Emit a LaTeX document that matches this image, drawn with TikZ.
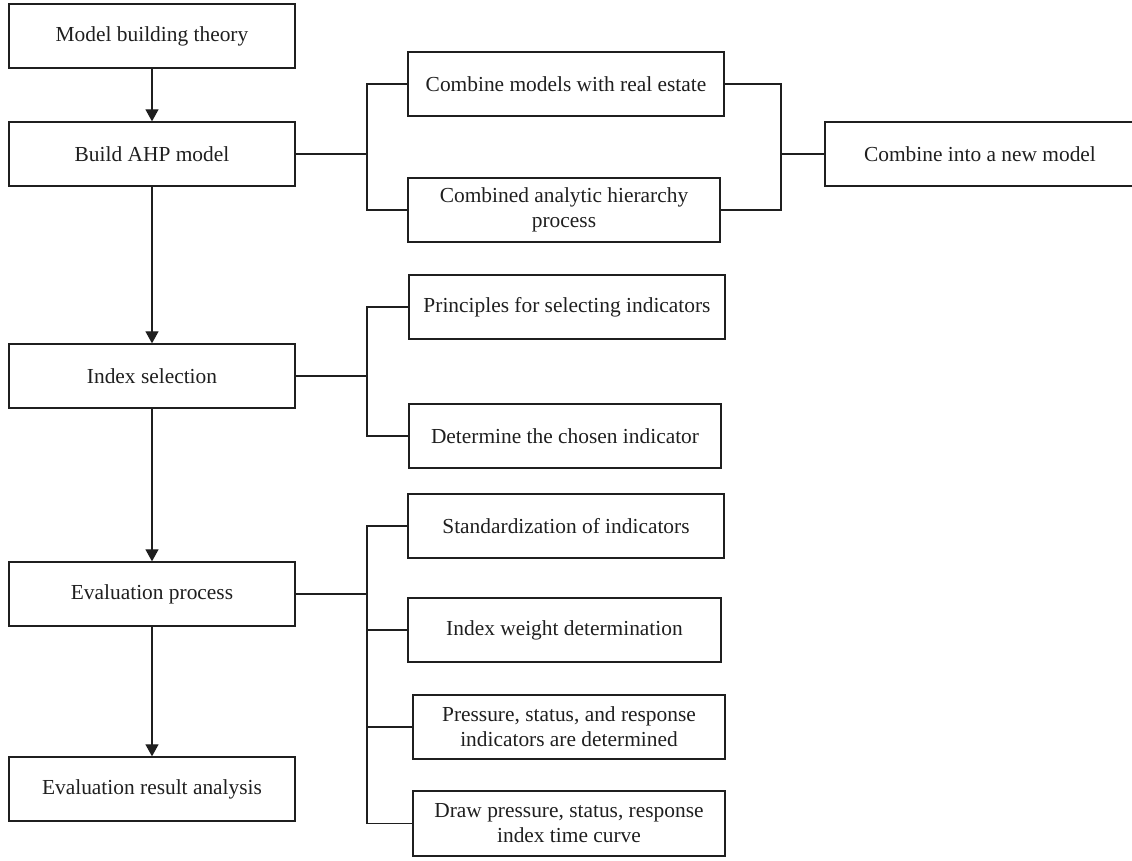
\documentclass[tikz,border=0pt]{standalone}
\usepackage{fontspec}
\setmainfont{Liberation Serif}
\usepackage{tikz}
\usetikzlibrary{arrows.meta,calc}
\tikzset{flowFig/.style={x=0.5pt,y=-0.5pt,line width=0.65pt,color=black!88,
                    >={Triangle[width=6.5pt,length=6pt]},font=\fontsize{10.7}{12.5}\selectfont},
         stageBox/.style={draw,rectangle,inner sep=0pt,minimum width=143pt,minimum height=32pt,align=center},
         stepBox/.style={draw,rectangle,inner sep=0pt,minimum width=158pt,minimum height=32pt,align=center}}

\begin{document}
\begin{tikzpicture}[flowFig]
			\useasboundingbox (0,0) rectangle (1132,861);
			%MAIN
			\node [stageBox] (theory) at (152,36)     {Model building theory};
			\node [stageBox] (ahp) at (152,154)     {Build AHP model};
			\node [stageBox] (index) at (152,376)     {Index selection};
			\node [stageBox] (eval) at (152,594)     {Evaluation process};
			\node [stageBox] (result) at (152,789)     {Evaluation result analysis};
			%STEPS
			\node [stepBox] (realestate) at (566,84)     {Combine models with real estate};
			\node [stepBox,minimum width=156pt] (combahp) at (564,210)     {Combined analytic hierarchy\\process};
			\node [stepBox,minimum width=155pt] (newmodel) at (980,154)     {Combine into a new model};
			\node [stepBox] (principles) at (567,307)     {Principles for selecting indicators};
			\node [stepBox,minimum width=156pt] (determine) at (565,436)     {Determine the chosen indicator};
			\node [stepBox] (standard) at (566,526)     {Standardization of indicators};
			\node [stepBox,minimum width=156.5pt] (weight) at (564.5,630)     {Index weight determination};
			\node [stepBox,minimum width=156pt] (pressure) at (569,727)     {Pressure, status, and response\\indicators are determined};
			\node [stepBox,minimum width=156pt,minimum height=32.5pt] (curve) at (569,823.5)     {Draw pressure, status, response\\index time curve};
			%BUS
			\coordinate (busA) at (367,154);
			\coordinate (busB) at (781,154);
			\coordinate (busC) at (367,376);
			\coordinate (busD) at (367,594);

			%
			\path[->]
			(theory) edge (ahp)
			(ahp) edge (index)
			(index) edge (eval)
			(eval) edge (result)
			;
			%AHP
			\draw (ahp) -- (busA);
			\draw (realestate.west) -| (busA);
			\draw (combahp.west) -| (busA);
			\draw (realestate.east) -| (busB);
			\draw (combahp.east) -| (busB);
			\draw (busB) -- (newmodel);
			%INDEX
			\draw (index) -- (busC);
			\draw (principles.west) -| (busC);
			\draw (determine.west) -| (busC);
			%EVALUATION
			\draw (eval) -- (busD);
			\draw (standard.west) -| (busD);
			\draw (weight.west) -| (busD);
			\draw (pressure.west) -| (busD);
			\draw (curve.west) -| (busD);
\end{tikzpicture}
\end{document}
